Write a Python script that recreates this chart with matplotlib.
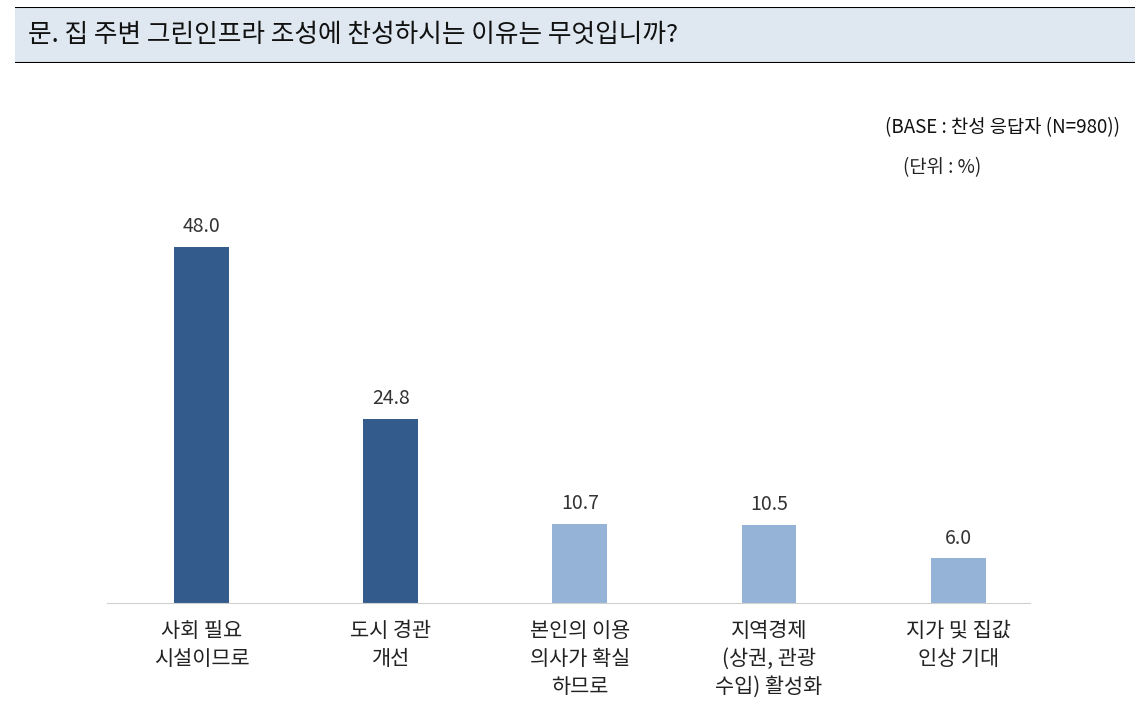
import matplotlib.pyplot as plt
from matplotlib.patches import Rectangle

plt.rcParams['font.family'] = ['Noto Sans CJK KR', 'DejaVu Sans']

# data
categories = ["사회 필요\n시설이므로", "도시 경관\n개선", "본인의 이용\n의사가 확실\n하므로",
              "지역경제\n(상권, 관광\n수입) 활성화", "지가 및 집값\n인상 기대"]
values = [48.0, 24.8, 10.7, 10.5, 6.0]
colors = ["#335c8d", "#335c8d", "#95b3d7", "#95b3d7", "#95b3d7"]

W, H = 1141, 705
fig = plt.figure(figsize=(W / 100, H / 100), dpi=100)

# header box with question
hdr = fig.add_axes([15 / W, 1 - 63 / H, 1120 / W, 56 / H])
hdr.set_xlim(0, 1)
hdr.set_ylim(0, 1)
hdr.axis("off")
hdr.add_patch(Rectangle((0, 0), 1, 1, facecolor="#dfe8f1", edgecolor="none"))
hdr.plot([0, 1], [1, 1], color="black", lw=1.5)
hdr.plot([0, 1], [0, 0], color="black", lw=1.5)
hdr.text(13 / 1120, 0.5, "문. 집 주변 그린인프라 조성에 찬성하시는 이유는 무엇입니까?",
         fontsize=18.5, va="center", ha="left", color="#111111")

fig.text(1120 / W, 1 - 128 / H, "(BASE : 찬성 응답자 (N=980))", fontsize=13.5,
         ha="right", va="center", color="#111111")
fig.text(942 / W, 1 - 168 / H, "(단위 : %)", fontsize=13.5,
         ha="center", va="center", color="#222222")

# bar chart
ax = fig.add_axes([107 / W, 1 - 603 / H, 923 / W, 403 / H])
x = range(len(values))
ax.bar(x, values, width=0.29, color=colors)
ax.set_xlim(-0.5, 4.38)
ax.set_ylim(0, 54.3)
for xi, v in zip(x, values):
    ax.text(xi, v + 1.3, f"{v:.1f}", ha="center", va="bottom", fontsize=14, color="#333333")

for s in ["top", "right", "left"]:
    ax.spines[s].set_visible(False)
ax.spines["bottom"].set_color("#d0d0d0")
ax.set_yticks([])
ax.set_xticks(list(x))
ax.set_xticklabels(categories, fontsize=15, linespacing=1.35, va="top", color="#222222")
ax.tick_params(axis="x", length=0, pad=12)

fig.savefig("out.png", dpi=100)
